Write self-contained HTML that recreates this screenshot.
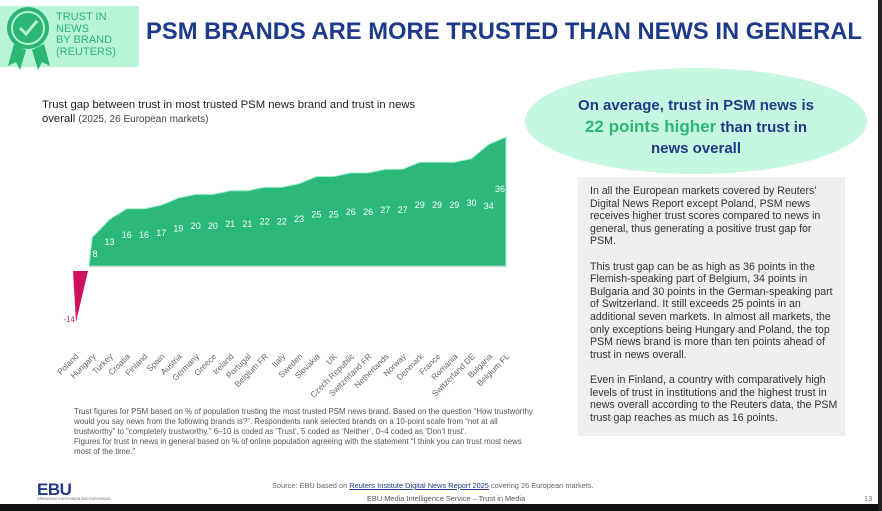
<!DOCTYPE html>
<html><head><meta charset="utf-8"><style>
*{margin:0;padding:0;box-sizing:border-box}
body{width:882px;height:511px;background:#fff;position:relative;overflow:hidden;font-family:"Liberation Sans",sans-serif}
.abs{position:absolute}
</style></head><body>
<div class="abs" style="left:0;top:6px;width:139px;height:61px;background:#b8f5d8"></div>
<svg class="abs" style="left:0;top:0" width="60" height="75">
<polygon points="14,44 8,66 16,62 20,70 26,50" fill="#2bb673"/>
<polygon points="32,50 38,70 42,62 50,66 44,44" fill="#2bb673"/>
<circle cx="28" cy="28" r="21" fill="#2bb673"/>
<circle cx="28" cy="28" r="16" fill="none" stroke="#b8f5d8" stroke-width="2"/>
<polyline points="20,28 26,34 37,21" fill="none" stroke="#b8f5d8" stroke-width="3"/>
</svg>
<div class="abs" style="left:56px;top:12px;font-size:11px;line-height:11.5px;color:#2bb673">TRUST IN<br>NEWS<br>BY BRAND<br>(REUTERS)</div>
<div class="abs" style="left:146px;top:18px;font-size:24px;font-weight:bold;color:#1f3a8a;white-space:nowrap;transform:scaleX(0.99);transform-origin:left">PSM BRANDS ARE MORE TRUSTED THAN NEWS IN GENERAL</div>
<div class="abs" style="left:42px;top:98px;font-size:11.3px;line-height:14px;color:#222">Trust gap between trust in most trusted PSM news brand and trust in news<br>overall <span style="font-size:10px;color:#444">(2025, 26 European markets)</span></div>

<svg class="abs" style="left:0;top:0" width="560" height="420" font-family="Liberation Sans, sans-serif">
<polygon fill="#2bb87a" stroke="#9ff0cc" stroke-width="1" points="89,266 92.2,237.4 109.5,219.5 126.7,208.7 144,208.7 161.2,205.1 178.4,198 195.7,194.4 212.9,194.4 230.2,190.8 247.4,190.8 264.6,187.2 281.9,187.2 299.1,183.7 316.4,176.5 333.6,176.5 350.8,172.9 368.1,172.9 385.3,169.3 402.6,169.3 419.8,162.2 437,162.2 454.3,162.2 471.5,158.6 488.8,144.3 506,137.1 506,266"/>
<polygon fill="#d0105a" points="73,271 88,271 76,322"/>
<line x1="89" y1="266.5" x2="507" y2="266.5" stroke="#ccc" stroke-width="1"/>
<g fill="#fff" font-size="9" text-anchor="middle">
<text x="95" y="257">8</text><text x="109.5" y="245">13</text><text x="126.7" y="238">16</text><text x="144" y="238">16</text><text x="161.2" y="236">17</text><text x="178.4" y="231.5">19</text><text x="195.7" y="229">20</text><text x="212.9" y="229">20</text><text x="230.2" y="227">21</text><text x="247.4" y="227">21</text><text x="264.6" y="224.5">22</text><text x="281.9" y="224.5">22</text><text x="299.1" y="222">23</text><text x="316.4" y="217.5">25</text><text x="333.6" y="217.5">25</text><text x="350.8" y="215">26</text><text x="368.1" y="215">26</text><text x="385.3" y="213">27</text><text x="402.6" y="213">27</text><text x="419.8" y="208">29</text><text x="437" y="208">29</text><text x="454.3" y="208">29</text><text x="471.5" y="206">30</text><text x="488.8" y="209">34</text><text x="500" y="192">36</text>
</g>
<text x="75" y="322" font-size="8" fill="#c0306a" text-anchor="end">-14</text>
<g fill="#666" font-size="8.3" text-anchor="end">
<text transform="translate(79,357) rotate(-45)">Poland</text>
<text transform="translate(96.2,357) rotate(-45)">Hungary</text>
<text transform="translate(113.5,357) rotate(-45)">Turkey</text>
<text transform="translate(130.7,357) rotate(-45)">Croatia</text>
<text transform="translate(148,357) rotate(-45)">Finland</text>
<text transform="translate(165.2,357) rotate(-45)">Spain</text>
<text transform="translate(182.4,357) rotate(-45)">Austria</text>
<text transform="translate(199.7,357) rotate(-45)">Germany</text>
<text transform="translate(216.9,357) rotate(-45)">Greece</text>
<text transform="translate(234.2,357) rotate(-45)">Ireland</text>
<text transform="translate(251.4,357) rotate(-45)">Portugal</text>
<text transform="translate(268.6,357) rotate(-45)">Belgium FR</text>
<text transform="translate(285.9,357) rotate(-45)">Italy</text>
<text transform="translate(303.1,357) rotate(-45)">Sweden</text>
<text transform="translate(320.4,357) rotate(-45)">Slovakia</text>
<text transform="translate(337.6,357) rotate(-45)">UK</text>
<text transform="translate(354.8,357) rotate(-45)">Czech Republic</text>
<text transform="translate(372.1,357) rotate(-45)">Switzerland FR</text>
<text transform="translate(389.3,357) rotate(-45)">Netherlands</text>
<text transform="translate(406.6,357) rotate(-45)">Norway</text>
<text transform="translate(423.8,357) rotate(-45)">Denmark</text>
<text transform="translate(441,357) rotate(-45)">France</text>
<text transform="translate(458.3,357) rotate(-45)">Romania</text>
<text transform="translate(475.5,357) rotate(-45)">Switzerland DE</text>
<text transform="translate(492.8,357) rotate(-45)">Bulgaria</text>
<text transform="translate(510,357) rotate(-45)">Belgium FL</text>
</g>
</svg>

<svg class="abs" style="left:0;top:0" width="882" height="200"><ellipse cx="696" cy="121" rx="171" ry="53" fill="#c6f7e0"/></svg>
<div class="abs" style="left:525px;top:95px;width:342px;text-align:center;font-weight:bold;font-size:15px;line-height:21px;color:#1f3a8a">On average, trust in PSM news is<br><span style="color:#2bb673;font-size:17px">22 points higher</span> than trust in<br>news overall</div>
<div class="abs" style="left:578px;top:177px;width:267px;height:259px;background:#efefef"></div>
<div class="abs" style="left:590px;top:185px;width:248px;font-size:10.6px;line-height:12.6px;color:#333">In all the European markets covered by Reuters' Digital News Report except Poland, PSM news receives higher trust scores compared to news in general, thus generating a positive trust gap for PSM.<br><br>This trust gap can be as high as 36 points in the Flemish-speaking part of Belgium, 34 points in Bulgaria and 30 points in the German-speaking part of Switzerland. It still exceeds 25 points in an additional seven markets. In almost all markets, the only exceptions being Hungary and Poland, the top PSM news brand is more than ten points ahead of trust in news overall.<br><br>Even in Finland, a country with comparatively high levels of trust in institutions and the highest trust in news overall according to the Reuters data, the PSM trust gap reaches as much as 16 points.</div>

<div class="abs" style="left:74px;top:407px;width:460px;font-size:7.9px;line-height:9.9px;color:#555">Trust figures for PSM based on % of population trusting the most trusted PSM news brand. Based on the question “How trustworthy would you say news from the following brands is?”. Respondents rank selected brands on a 10-point scale from “not at all trustworthy” to “completely trustworthy.” 6–10 is coded as ‘Trust’, 5 coded as ‘Neither’, 0–4 coded as ‘Don’t trust’.<br>Figures for trust in news in general based on % of online population agreeing with the statement “I think you can trust most news most of the time.”</div>

<div class="abs" style="left:37px;top:480px;font-size:17px;font-weight:bold;color:#1f3a8a;letter-spacing:-0.5px">EBU</div>
<div class="abs" style="left:37px;top:497px;font-size:3.5px;color:#666">OPERATING EUROVISION AND EURORADIO</div>
<div class="abs" style="left:272px;top:481px;font-size:7.4px;color:#666;white-space:nowrap">Source: EBU based on <span style="color:#1f3a8a;text-decoration:underline">Reuters Institute Digital News Report 2025</span> covering 26 European markets.</div>
<div class="abs" style="left:367px;top:494px;font-size:7.4px;color:#555;white-space:nowrap">EBU Media Intelligence Service – Trust in Media</div>
<div class="abs" style="left:864px;top:494px;font-size:7.4px;color:#777">13</div>
<div class="abs" style="left:0;top:504px;width:882px;height:7px;background:#111"></div>
<div class="abs" style="left:878px;top:0;width:4px;height:511px;background:#222"></div>
</body></html>
